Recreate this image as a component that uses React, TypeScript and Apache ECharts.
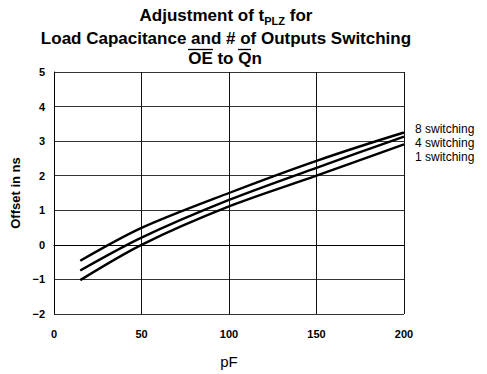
import React, { useEffect, useRef } from "react";
import * as echarts from "echarts";

const pF = [15, 50, 100, 150, 200];
const sw8 = [-0.46, 0.49, 1.5, 2.43, 3.25];
const sw4 = [-0.74, 0.21, 1.3, 2.23, 3.13];
const sw1 = [-1.02, 0.0, 1.11, 2.0, 2.91];
const seriesNames = ["8 switching", "4 switching", "1 switching"];
const xTicks = [0, 50, 100, 150, 200];
const yTicks = [-2, -1, 0, 1, 2, 3, 4, 5];

const FONT = "'Liberation Sans', Arial, Helvetica, sans-serif";

export default function App() {
  const ref = useRef<HTMLDivElement>(null);
  useEffect(() => {
    if (!ref.current) return;
    const chart = echarts.init(ref.current, undefined, { renderer: "svg" });
    const mk = (name: string, ys: number[]) => ({
      name,
      type: "line",
      data: pF.map((x, i) => [x, ys[i]]),
      smooth: 0.3,
      symbol: "none",
      lineStyle: { color: "#000", width: 2.4 },
      itemStyle: { color: "#000" },
    });
    const titleStyle = { fontSize: 17, fontWeight: "bold", fontFamily: FONT, fill: "#000" };
    chart.setOption({
      animation: false,
      backgroundColor: "#fff",
      textStyle: { fontFamily: FONT },
      grid: { left: 54, right: 83, top: 72, bottom: 51 },
      graphic: [
        {
          type: "text",
          style: {
            x: 226,
            y: 15,
            align: "center",
            verticalAlign: "middle",
            text: "{a|Adjustment of t}{s|PLZ}{a| for}",
            rich: {
              a: { fontSize: 17, fontWeight: "bold", fontFamily: FONT, fill: "#000", lineHeight: 22, verticalAlign: "middle" },
              s: { fontSize: 11, fontWeight: "bold", fontFamily: FONT, fill: "#000", lineHeight: 22, verticalAlign: "bottom" },
            },
          },
        },
        {
          type: "text",
          style: {
            ...titleStyle,
            x: 226,
            y: 38.5,
            align: "center",
            verticalAlign: "middle",
            text: "Load Capacitance and # of Outputs Switching",
          },
        },
        {
          type: "text",
          style: {
            ...titleStyle,
            x: 225,
            y: 58,
            align: "center",
            verticalAlign: "middle",
            text: "OE to Qn",
          },
        },
        { type: "line", shape: { x1: 188, y1: 49.5, x2: 213, y2: 49.5 }, style: { stroke: "#000", lineWidth: 1.3 } },
        { type: "line", shape: { x1: 238, y1: 49.5, x2: 251, y2: 49.5 }, style: { stroke: "#000", lineWidth: 1.3 } },
      ],
      legend: {
        orient: "vertical",
        left: 410,
        top: 118,
        itemGap: 2,
        itemWidth: 0,
        itemHeight: 11,
        icon: "none",
        data: seriesNames,
        textStyle: { color: "#000", fontSize: 12, fontFamily: FONT, padding: [0, 0, 0, -5] },
      },
      xAxis: {
        type: "value",
        min: 0,
        max: 200,
        interval: 50,
        name: "pF",
        nameLocation: "middle",
        nameGap: 40,
        nameTextStyle: { fontSize: 15, color: "#000", fontFamily: FONT },
        axisLine: { lineStyle: { color: "#000", width: 1 } },
        axisTick: { show: false },
        axisLabel: {
          color: "#000",
          fontSize: 11,
          fontWeight: "bold",
          fontFamily: FONT,
          margin: 14,
          formatter: (v: number) => (xTicks.includes(v) ? String(v) : ""),
        },
        splitLine: { show: true, lineStyle: { color: "#111", width: 1 } },
      },
      yAxis: {
        type: "value",
        min: -2,
        max: 5,
        interval: 1,
        name: "Offset in ns",
        nameLocation: "middle",
        nameGap: 28,
        nameTextStyle: { fontSize: 13, fontWeight: "bold", color: "#000", fontFamily: FONT },
        axisLine: { lineStyle: { color: "#000", width: 1 } },
        axisTick: { show: false },
        axisLabel: {
          color: "#000",
          fontSize: 11,
          fontWeight: "bold",
          fontFamily: FONT,
          margin: 9,
          formatter: (v: number) => (yTicks.includes(v) ? String(v).replace("-", "\u2212") : ""),
        },
        splitLine: { show: true, lineStyle: { color: "#333", width: 1 } },
      },
      series: [mk(seriesNames[0], sw8), mk(seriesNames[1], sw4), mk(seriesNames[2], sw1)],
    });
    return () => chart.dispose();
  }, []);
  return <div ref={ref} style={{ width: 487, height: 374, position: "absolute", left: 0, top: 0 }} />;
}
